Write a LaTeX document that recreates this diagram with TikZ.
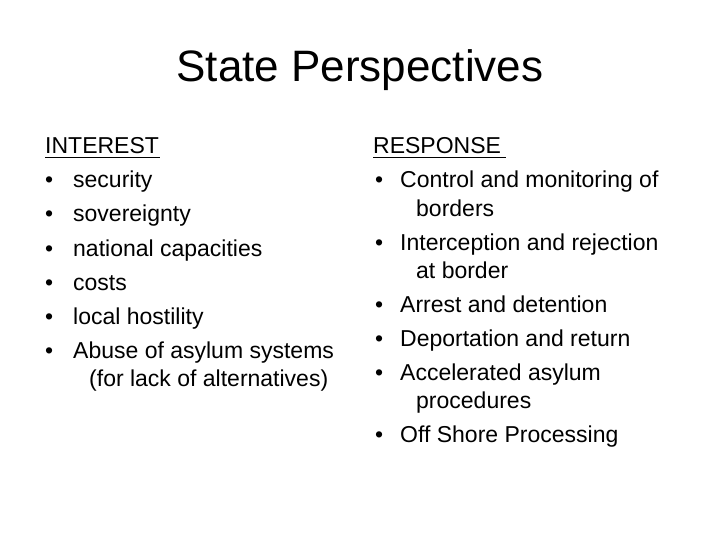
\documentclass[tikz,border=0pt]{standalone}
\usepackage{fontspec}
\setmainfont{Liberation Sans}
\usetikzlibrary{positioning}

\begin{document}
\begin{tikzpicture}[
    x=1pt, y=-1pt,
    txt/.style={anchor=base west, inner sep=0pt, font=\fontsize{23}{26}\selectfont},
    bul/.style={anchor=base west, inner sep=0pt, font=\fontsize{23}{26}\selectfont}
]
\useasboundingbox (0,0) rectangle (720,540);

% Title
\node[anchor=base, inner sep=0pt, font=\fontsize{44}{48}\selectfont] (title) at (360,82) {State Perspectives};

% Left column - interests
\node[txt] (interest) at (45,154) {INTEREST};
\draw (45,157) -- (160,157);
\foreach \y/\t [count=\i] in {188/security, 222/sovereignty, 256/national capacities,
    290/costs, 324/local hostility, 358/Abuse of asylum systems} {
  \node[bul] (lb\i) at (45,\y) {\textbullet};
  \node[txt] (li\i) at (73,\y) {\t};
}
\node[txt] (li7) at (89,386) {(for lack of alternatives)};

% Right column - responses
\node[txt] (response) at (373,154) {RESPONSE};
\draw (373,157) -- (506,157);
\foreach \y/\t [count=\i] in {188/Control and monitoring of, 250/Interception and rejection,
    312/Arrest and detention, 346/Deportation and return, 380/Accelerated asylum,
    442/Off Shore Processing} {
  \node[bul] (rb\i) at (375,\y) {\textbullet};
  \node[txt] (ri\i) at (400,\y) {\t};
}
\node[txt] (rc1) at (416,216) {borders};
\node[txt] (rc2) at (416,278) {at border};
\node[txt] (rc3) at (416,408) {procedures};

\end{tikzpicture}
\end{document}
